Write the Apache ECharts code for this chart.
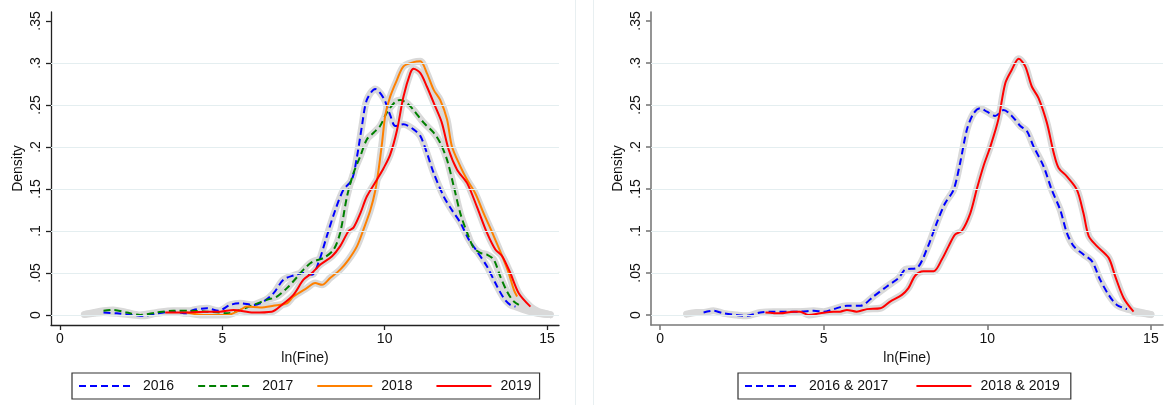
<!DOCTYPE html>
<html>
<head>
<meta charset="utf-8">
<script src="https://cdn.jsdelivr.net/npm/echarts@6/dist/echarts.min.js"></script>
<style>
  html, body { margin: 0; padding: 0; background: #ffffff; }
  #chart { width: 1166px; height: 405px; }
</style>
</head>
<body>
<div id="chart"></div>
<script>
// Kernel density estimates of ln(Fine), by year (left) and pooled pairs of years (right).
// Each series is a list of [ln(Fine), density] points.

const d2016 = [[1.34,.003],[1.75,.002],[2.26,0],[2.57,-.001],[2.98,.002],[3.49,.004],[3.9,.002],[4.11,.006],[4.52,.008],[4.88,.005],[5.24,.012],[5.55,.014],[5.96,.012],[6.27,.016],[6.58,.026],[6.88,.042],[7.19,.047],[7.5,.05],[7.76,.048],[7.96,.062],[8.22,.094],[8.48,.125],[8.73,.149],[8.99,.161],[9.15,.189],[9.3,.225],[9.45,.256],[9.71,.269],[9.97,.258],[10.17,.238],[10.33,.225],[10.58,.227],[10.89,.221],[11.1,.213],[11.3,.193],[11.51,.169],[11.82,.141],[12.07,.125],[12.33,.11],[12.59,.09],[12.84,.076],[13.15,.058],[13.41,.038],[13.67,.02],[13.87,.012],[14.03,.01]];

const d2017 = [[1.34,.005],[1.64,.006],[2.05,.003],[2.47,0],[2.98,.003],[3.49,.005],[4.01,.005],[4.52,.004],[4.93,.003],[5.14,.002],[5.55,.006],[5.96,.012],[6.37,.018],[6.68,.022],[6.99,.032],[7.3,.045],[7.5,.054],[7.76,.063],[8.12,.068],[8.43,.078],[8.63,.098],[8.84,.141],[9.04,.169],[9.25,.189],[9.45,.209],[9.66,.217],[9.86,.225],[10.07,.241],[10.33,.254],[10.48,.256],[10.69,.252],[10.89,.244],[11.2,.229],[11.51,.217],[11.71,.205],[11.92,.185],[12.13,.153],[12.33,.121],[12.54,.098],[12.74,.08],[12.95,.074],[13.15,.072],[13.36,.066],[13.56,.046],[13.77,.028],[13.98,.016],[14.23,.01]];

const d2018 = [[3.9,.003],[4.42,0],[5.14,0],[5.55,.006],[5.75,.01],[6.17,.009],[6.57,.011],[6.99,.014],[7.19,.022],[7.6,.032],[7.86,.038],[8.07,.036],[8.32,.044],[8.63,.054],[8.89,.066],[9.15,.082],[9.35,.102],[9.56,.125],[9.71,.148],[9.81,.172],[9.92,.205],[10.02,.238],[10.17,.26],[10.38,.28],[10.58,.296],[10.89,.301],[11.1,.302],[11.3,.288],[11.51,.268],[11.71,.256],[11.92,.233],[12.07,.201],[12.33,.177],[12.54,.161],[12.79,.145],[13.05,.121],[13.36,.094],[13.62,.07],[13.82,.05],[13.98,.03],[14.08,.022]];

const d2019 = [[3.24,.003],[3.9,.003],[4.52,.004],[4.93,.004],[5.34,.006],[5.96,.003],[6.52,.004],[6.83,.012],[7.19,.024],[7.5,.042],[7.76,.05],[8.02,.06],[8.38,.07],[8.63,.082],[8.89,.1],[9.04,.104],[9.25,.121],[9.45,.141],[9.76,.161],[9.97,.175],[10.17,.191],[10.38,.22],[10.58,.26],[10.79,.288],[10.89,.293],[11.1,.288],[11.3,.272],[11.56,.248],[11.76,.229],[11.97,.197],[12.23,.173],[12.54,.157],[12.84,.129],[13.15,.098],[13.41,.078],[13.62,.07],[13.87,.05],[14.13,.026],[14.49,.01]];

const d2016_17 = [[1.33,.003],[1.63,.005],[1.94,.002],[2.34,0],[2.65,-.001],[3.06,.003],[3.47,.004],[3.87,.004],[4.28,.004],[4.69,.005],[5.0,.004],[5.3,.007],[5.71,.011],[6.12,.011],[6.52,.022],[6.93,.034],[7.29,.044],[7.49,.054],[7.85,.056],[8.15,.078],[8.46,.11],[8.71,.133],[8.97,.149],[9.17,.181],[9.38,.221],[9.58,.24],[9.78,.246],[9.99,.242],[10.24,.237],[10.5,.244],[10.75,.237],[11.01,.225],[11.21,.219],[11.41,.201],[11.72,.177],[11.97,.149],[12.23,.125],[12.43,.098],[12.64,.082],[12.94,.072],[13.2,.064],[13.45,.042],[13.71,.024],[13.96,.012],[14.27,.007]];

const d2018_19 = [[3.22,.003],[3.67,.002],[4.08,.004],[4.28,.004],[4.54,0],[4.89,.002],[5.3,.004],[5.5,.004],[5.71,.006],[6.01,.004],[6.32,.007],[6.73,.008],[7.03,.016],[7.39,.024],[7.59,.032],[7.8,.047],[8.05,.052],[8.36,.052],[8.61,.066],[8.82,.082],[9.02,.096],[9.22,.1],[9.48,.121],[9.68,.15],[9.89,.178],[10.09,.2],[10.34,.233],[10.55,.276],[10.75,.292],[10.96,.305],[11.16,.296],[11.36,.272],[11.57,.258],[11.82,.229],[12.03,.193],[12.18,.175],[12.43,.165],[12.74,.149],[12.94,.121],[13.1,.094],[13.35,.082],[13.71,.068],[13.91,.046],[14.17,.02],[14.47,.004]];

// Confidence bands reach a little past the ends of the estimate lines.
const band2016L = [[0.75,.0005],[1.05,.002]];
const band2016R = [[14.3,.006],[14.6,.003],[15.0,.0005]];
const band2017L = [[0.8,.001],[1.05,.003]];
const band2017R = [[14.5,.006],[14.8,.003],[15.1,.0005]];
const band2018R = [[14.3,.012],[14.6,.004],[15.0,.001]];
const band2019R = [[14.75,.004],[15.1,.0005]];
const band2016_17L = [[0.81,.001],[1.1,.003]];
const band2016_17R = [[14.6,.004],[15.0,.0005]];
const band2018_19R = [[14.75,.002],[15.0,.0005]];

// Axis ticks and their printed labels
const xTicks = [0, 5, 10, 15];
const yTicks = [0, 0.05, 0.1, 0.15, 0.2, 0.25, 0.3, 0.35];
const yTickLabels = ['0', '.05', '.1', '.15', '.2', '.25', '.3', '.35'];
const gridValues = [0, 0.05, 0.1, 0.15, 0.2, 0.25, 0.3];

// Plot-region extents (the axes sit slightly outside the data range)
const xExtent = [-0.277, 15.37];
const yExtent = [-0.0119, 0.3607];

const FONT = '"Liberation Sans", Arial, Helvetica, sans-serif';
const BLUE = '#0000ff', GREEN = '#008000', ORANGE = '#ff8000', RED = '#ff0000';
const BAND = '#d9d9d9';

function yLabel(v) {
  for (let i = 0; i < yTicks.length; i++) {
    if (Math.abs(yTicks[i] - v) < 1e-9) return yTickLabels[i];
  }
  return '';
}

function makeXAxis(idx, color, width) {
  return {
    type: 'value', gridIndex: idx, min: xExtent[0], max: xExtent[1],
    name: 'ln(Fine)', nameLocation: 'middle', nameGap: 24,
    nameTextStyle: { fontFamily: FONT, fontSize: 14, color: '#111' },
    axisLine: { show: true, onZero: false, lineStyle: { color: color, width: width } },
    axisTick: { show: true, length: 5, customValues: xTicks, lineStyle: { color: color, width: width } },
    axisLabel: { customValues: xTicks, margin: 7, fontFamily: FONT, fontSize: 14, color: '#111' },
    splitLine: { show: false }
  };
}

function makeYAxis(idx, color, width) {
  return {
    type: 'value', gridIndex: idx, min: yExtent[0], max: yExtent[1],
    name: 'Density', nameLocation: 'middle', nameGap: 26, nameRotate: 90,
    nameTextStyle: { fontFamily: FONT, fontSize: 14, color: '#111' },
    axisLine: { show: true, onZero: false, lineStyle: { color: color, width: width } },
    axisTick: { show: true, length: 5, customValues: yTicks, lineStyle: { color: color, width: width } },
    axisLabel: { customValues: yTicks, rotate: 90, margin: 8, fontFamily: FONT, fontSize: 14, color: '#111',
                 formatter: yLabel },
    splitLine: { show: false }
  };
}

function gridSeries(idx) {
  return {
    type: 'line', xAxisIndex: idx, yAxisIndex: idx, data: [], z: 0, silent: true,
    markLine: {
      silent: true, symbol: 'none', animation: false,
      label: { show: false },
      lineStyle: { color: '#e4eef0', width: 1, type: 'solid' },
      data: gridValues.map(v => ({ yAxis: v }))
    }
  };
}

function bandSeries(idx, pts) {
  return {
    type: 'line', xAxisIndex: idx, yAxisIndex: idx, data: pts, z: 1, silent: true,
    symbol: 'none', smooth: 0.3, animation: false,
    lineStyle: { color: BAND, width: 7, cap: 'round', join: 'round' }
  };
}

function curveSeries(idx, name, pts, color, dashed) {
  return {
    name: name, type: 'line', xAxisIndex: idx, yAxisIndex: idx, data: pts, z: 3,
    symbol: 'none', smooth: 0.3, animation: false,
    itemStyle: { color: color },
    lineStyle: { color: color, width: 2, type: dashed ? [7, 4] : 'solid' }
  };
}

function makeLegend(left, names, gap, padRight) {
  return {
    left: left, top: 373, orient: 'horizontal',
    data: names, selectedMode: false,
    itemWidth: 55, itemHeight: 14, itemGap: gap,
    padding: [6, padRight, 6, 6],
    borderColor: '#333', borderWidth: 1.2, borderRadius: 0,
    itemStyle: { opacity: 0 },
    textStyle: { fontFamily: FONT, fontSize: 14, color: '#111', padding: [0, 0, 0, 4] }
  };
}

const chart = echarts.init(document.getElementById('chart'), null, { renderer: 'canvas' });

chart.setOption({
  backgroundColor: '#ffffff',
  animation: false,
  grid: [
    { left: 51, right: 607, top: 12, bottom: 80 },
    { left: 651, right: 3, top: 12, bottom: 80 }
  ],
  xAxis: [makeXAxis(0, '#222', 1.3), makeXAxis(1, '#7a7a7a', 1.6)],
  yAxis: [makeYAxis(0, '#222', 1.3), makeYAxis(1, '#7a7a7a', 1.6)],
  legend: [
    makeLegend(72, ['2016', '2017', '2018', '2019'], 23, 8),
    makeLegend(738, ['2016 & 2017', '2018 & 2019'], 27, 11)
  ],
  graphic: [
    { type: 'line', shape: { x1: 575.5, y1: 0, x2: 575.5, y2: 405 }, style: { stroke: '#e8eff1', lineWidth: 1 }, silent: true },
    { type: 'line', shape: { x1: 593.5, y1: 0, x2: 593.5, y2: 405 }, style: { stroke: '#e8eff1', lineWidth: 1 }, silent: true }
  ],
  series: [
    gridSeries(0),
    gridSeries(1),
    bandSeries(0, band2016L.concat(d2016, band2016R)),
    bandSeries(0, band2017L.concat(d2017, band2017R)),
    bandSeries(0, d2018.concat(band2018R)),
    bandSeries(0, d2019.concat(band2019R)),
    bandSeries(1, band2016_17L.concat(d2016_17, band2016_17R)),
    bandSeries(1, d2018_19.concat(band2018_19R)),
    curveSeries(0, '2016', d2016, BLUE, true),
    curveSeries(0, '2017', d2017, GREEN, true),
    curveSeries(0, '2018', d2018, ORANGE, false),
    curveSeries(0, '2019', d2019, RED, false),
    curveSeries(1, '2016 & 2017', d2016_17, BLUE, true),
    curveSeries(1, '2018 & 2019', d2018_19, RED, false)
  ]
});
</script>
</body>
</html>
